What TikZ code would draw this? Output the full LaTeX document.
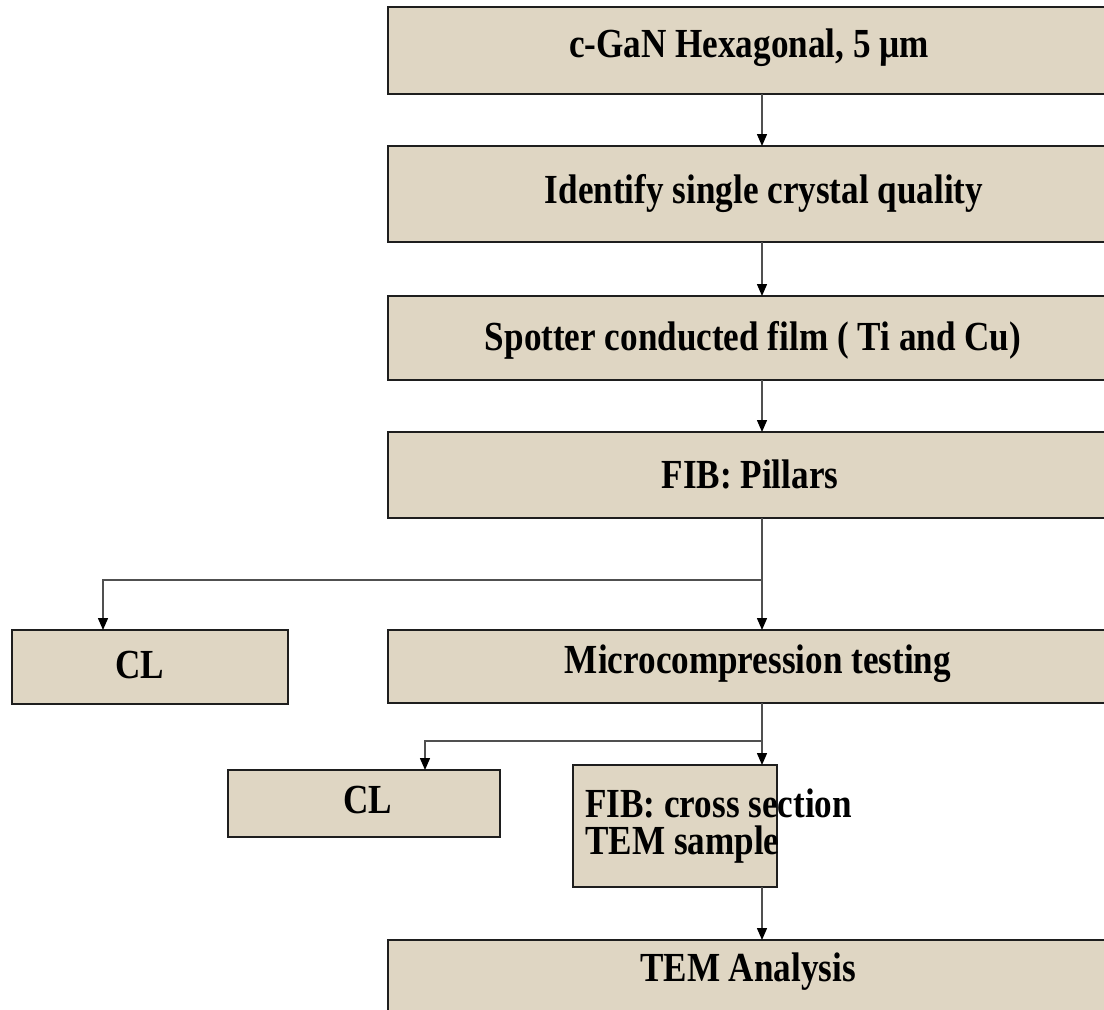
\documentclass[tikz,border=0pt]{standalone}
\usepackage{fontspec}
\setmainfont{Liberation Serif}
\newfontfamily\lblfont{Liberation Serif}[FakeStretch=0.85]
\usetikzlibrary{arrows.meta}
\definecolor{boxfill}{HTML}{DFD6C3}
\definecolor{boxline}{HTML}{1E1E1E}
\definecolor{linkline}{HTML}{505050}
\begin{document}
\begin{tikzpicture}[x=0.75pt,y=-0.75pt,
  stepbox/.style={draw=boxline, line width=1.5pt, fill=boxfill, inner sep=0pt, outer sep=0pt},
  lbl/.style={font=\lblfont\bfseries\fontsize{31}{28}\selectfont, inner sep=0pt},
  link/.style={draw=linkline, line width=1.1pt, -{Triangle[length=9pt,width=7.5pt,color=black]}},
  plain/.style={draw=linkline, line width=1.1pt}]
\useasboundingbox (0,0) rectangle (1104,1010);
\clip (0,0) rectangle (1104,1010);

% main column boxes (they run past the right edge)
\node[stepbox, minimum width=561pt, minimum height=65.25pt] (b1) at (762,50.5) {};
\node[stepbox, minimum width=561pt, minimum height=72pt]    (b2) at (762,194) {};
\node[stepbox, minimum width=561pt, minimum height=63pt]    (b3) at (762,338) {};
\node[stepbox, minimum width=561pt, minimum height=64.5pt]  (b4) at (762,475) {};
\node[stepbox, minimum width=561pt, minimum height=54.75pt] (mc) at (762,666.5) {};
\node[stepbox, minimum width=561pt, minimum height=90pt]    (tm) at (762,1000) {};

% side boxes
\node[stepbox, minimum width=207pt, minimum height=55.5pt]  (cl1) at (150,667) {};
\node[stepbox, minimum width=204pt, minimum height=50.25pt] (cl2) at (364,803.5) {};
\node[stepbox, minimum width=153pt, minimum height=91.5pt]  (fb) at (675,826) {};

% labels
\node[lbl] (l1) at (749,48) {c-GaN Hexagonal, 5 µm};
\node[lbl] (l2) at (764,194) {Identify single crystal quality};
\node[lbl] (l3) at (753,340) {Spotter conducted film ( Ti and Cu)};
\node[lbl] (l4) at (750,474) {FIB: Pillars};
\node[lbl] (l5) at (758,664) {Microcompression testing};
\node[lbl] (l6) at (748,972) {TEM Analysis};
\node[lbl] (l7) at (140,665) {CL};
\node[lbl] (l8) at (368,800) {CL};
\node[lbl, align=left, anchor=west] (l9) at (585,826) {FIB: cross section\\TEM sample};

% branch points and drop columns
\coordinate (j1) at (762,580);
\coordinate (j2) at (762,741);
\coordinate (d1) at (103,0);
\coordinate (d2) at (425,0);

% connectors
\draw[link] (b1.south) -- (b2.north);
\draw[link] (b2.south) -- (b3.north);
\draw[link] (b3.south) -- (b4.north);
\draw[plain] (b4.south) -- (j1);
\draw[link] (j1) -- (mc.north);
\draw[link] (j1) -| (d1 |- cl1.north);
\draw[plain] (mc.south) -- (j2);
\draw[link] (j2) -- (j2 |- fb.north);
\draw[link] (j2) -| (d2 |- cl2.north);
\draw[link] (j2 |- fb.south) -- (j2 |- tm.north);
\end{tikzpicture}
\end{document}
